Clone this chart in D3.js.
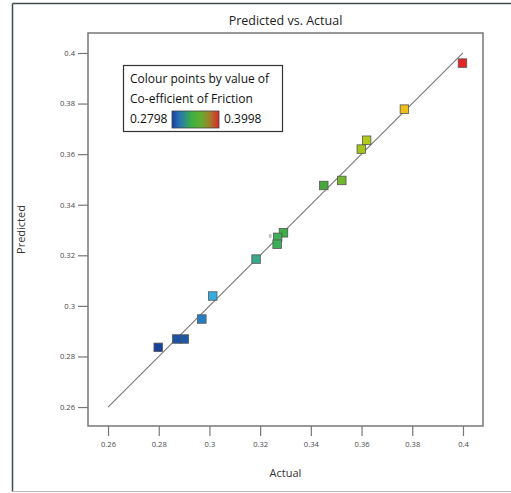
<!DOCTYPE html>
<meta charset="utf-8">
<script src="https://d3js.org/d3.v7.min.js"></script>
<style>
  body { margin: 0; background: #fff; }
  text { font-family: "Open Sans", "Noto Sans", sans-serif; }
</style>
<div id="my_dataviz"></div>
<script>
    // data
    var actual    = [0.3998, 0.3769, 0.3620, 0.3599, 0.3522, 0.3451, 0.3292, 0.3269, 0.3267, 0.3184, 0.3013, 0.2970, 0.2901, 0.2871, 0.2798];
    var predicted = [0.3960, 0.3778, 0.3655, 0.3620, 0.3496, 0.3476, 0.3289, 0.3271, 0.3244, 0.3185, 0.3039, 0.2948, 0.2869, 0.2869, 0.2836];
    var tickValues = [0.26, 0.28, 0.3, 0.32, 0.34, 0.36, 0.38, 0.4];
    var colorMin = 0.2798, colorMax = 0.3998;

    var W = 511, H = 493;
    var margin = {top: 33, right: 28, bottom: 67, left: 88},
        width = W - margin.left - margin.right,
        height = H - margin.top - margin.bottom;

    var root = d3.select("#my_dataviz")
      .append("svg")
        .attr("width", W)
        .attr("height", H);

    // outer frame (only left/top/bottom visible)
    root.append("line").attr("x1", 12.5).attr("y1", 3.5).attr("x2", W).attr("y2", 3.5)
        .attr("stroke", "#3f4b4b").attr("stroke-width", 1.5);
    root.append("line").attr("x1", 12.5).attr("y1", 3.5).attr("x2", 12.5).attr("y2", 491.5)
        .attr("stroke", "#3f4b4b").attr("stroke-width", 1.5);
    root.append("line").attr("x1", 12.5).attr("y1", 491.5).attr("x2", W).attr("y2", 491.5)
        .attr("stroke", "#bbbbbb").attr("stroke-width", 1);

    var svg = root.append("g")
        .attr("transform", "translate(" + margin.left + "," + margin.top + ")");

    var x = d3.scaleLinear().domain([0.2521, 0.4079]).range([0, width]);
    var y = d3.scaleLinear().domain([0.2525, 0.4079]).range([height, 0]);

    // colour scale for the points, blue -> green -> yellow -> red
    var stops = [0, 0.12, 0.18, 0.32, 0.42, 0.55, 0.62, 0.7, 0.82, 1];
    var stopColors = ["#17449a", "#1f5fae", "#35aee2", "#3aa88c", "#3cb043", "#45a838", "#80ba2a", "#bccc14", "#f5bd1a", "#e32626"];
    var color = d3.scaleLinear()
        .domain(stops.map(t => colorMin + t * (colorMax - colorMin)))
        .range(stopColors);

    // the legend bar looks like blue -> green -> red
    var legendStops = [0, 0.15, 0.42, 0.62, 0.8, 1];
    var legendColors = ["#1a3f9a", "#2670b8", "#3cb043", "#64ac30", "#a0802a", "#e0262a"];

    // axes
    var xAxis = svg.append("g")
        .attr("transform", "translate(0," + height + ")")
        .call(d3.axisBottom(x).tickValues(tickValues).tickSize(10).tickPadding(6).tickFormat(d3.format("")));
    var yAxis = svg.append("g")
        .call(d3.axisLeft(y).tickValues(tickValues).tickSize(10).tickPadding(3).tickFormat(d3.format("")));
    [xAxis, yAxis].forEach(function(a) {
      a.select(".domain").remove();
      a.selectAll("line").attr("stroke", "#777").attr("stroke-width", 1.2);
      a.selectAll("text").attr("fill", "#4a4a4a").style("font-size", "7.6px");
    });

    // plot box
    svg.append("rect")
        .attr("width", width).attr("height", height)
        .attr("fill", "none").attr("stroke", "#777").attr("stroke-width", 1.5);

    // diagonal y = x
    svg.append("line")
        .attr("x1", x(0.26)).attr("y1", y(0.26))
        .attr("x2", x(0.4)).attr("y2", y(0.4))
        .attr("stroke", "#777").attr("stroke-width", 1.1);

    // points
    var pts = actual.map((a, i) => ({a: a, p: predicted[i]}));
    var s = 8.5;
    svg.selectAll(".pt")
      .data(pts)
      .enter().append("rect")
        .attr("x", d => x(d.a) - s / 2)
        .attr("y", d => y(d.p) - s / 2)
        .attr("width", s).attr("height", s)
        .attr("fill", d => color(d.a))
        .attr("stroke", "#555").attr("stroke-width", 0.8);

    // small marker next to the overlapping points
    svg.append("text")
        .attr("x", x(0.3269) - 9).attr("y", y(0.3271) + 1)
        .style("font-size", "5px").attr("fill", "#555")
        .text("6");

    // legend
    var legend = svg.append("g").attr("transform", "translate(" + (123 - margin.left) + "," + (65 - margin.top) + ")");
    legend.append("rect").attr("x", 0.5).attr("y", 0.5).attr("width", 159).attr("height", 66)
        .attr("fill", "#fff").attr("stroke", "#333").attr("stroke-width", 1.2);
    legend.append("text").attr("x", 7).attr("y", 18).style("font-size", "12px").attr("fill", "#111")
        .text("Colour points by value of");
    legend.append("text").attr("x", 7).attr("y", 38).style("font-size", "12px").attr("fill", "#111")
        .text("Co-efficient of Friction");
    legend.append("text").attr("x", 7).attr("y", 58).style("font-size", "12px").attr("fill", "#111")
        .text(colorMin.toFixed(4));
    legend.append("text").attr("x", 101).attr("y", 58).style("font-size", "12px").attr("fill", "#111")
        .text(colorMax.toFixed(4));

    var grad = root.append("defs").append("linearGradient").attr("id", "cgrad");
    grad.selectAll("stop").data(legendStops).enter().append("stop")
        .attr("offset", d => (d * 100) + "%")
        .attr("stop-color", (d, i) => legendColors[i]);
    legend.append("rect").attr("x", 49).attr("y", 46).attr("width", 47).attr("height", 17)
        .attr("fill", "url(#cgrad)").attr("stroke", "#444").attr("stroke-width", 0.8);

    // titles
    root.append("text").attr("x", margin.left + width / 2).attr("y", 25)
        .attr("text-anchor", "middle").style("font-size", "12.5px").attr("fill", "#222")
        .text("Predicted vs. Actual");
    root.append("text").attr("x", margin.left + width / 2).attr("y", 477)
        .attr("text-anchor", "middle").style("font-size", "11px").attr("fill", "#333")
        .text("Actual");
    root.append("text")
        .attr("transform", "translate(25," + (margin.top + height / 2) + ")rotate(-90)")
        .attr("text-anchor", "middle").style("font-size", "11px").attr("fill", "#333")
        .text("Predicted");
</script>
